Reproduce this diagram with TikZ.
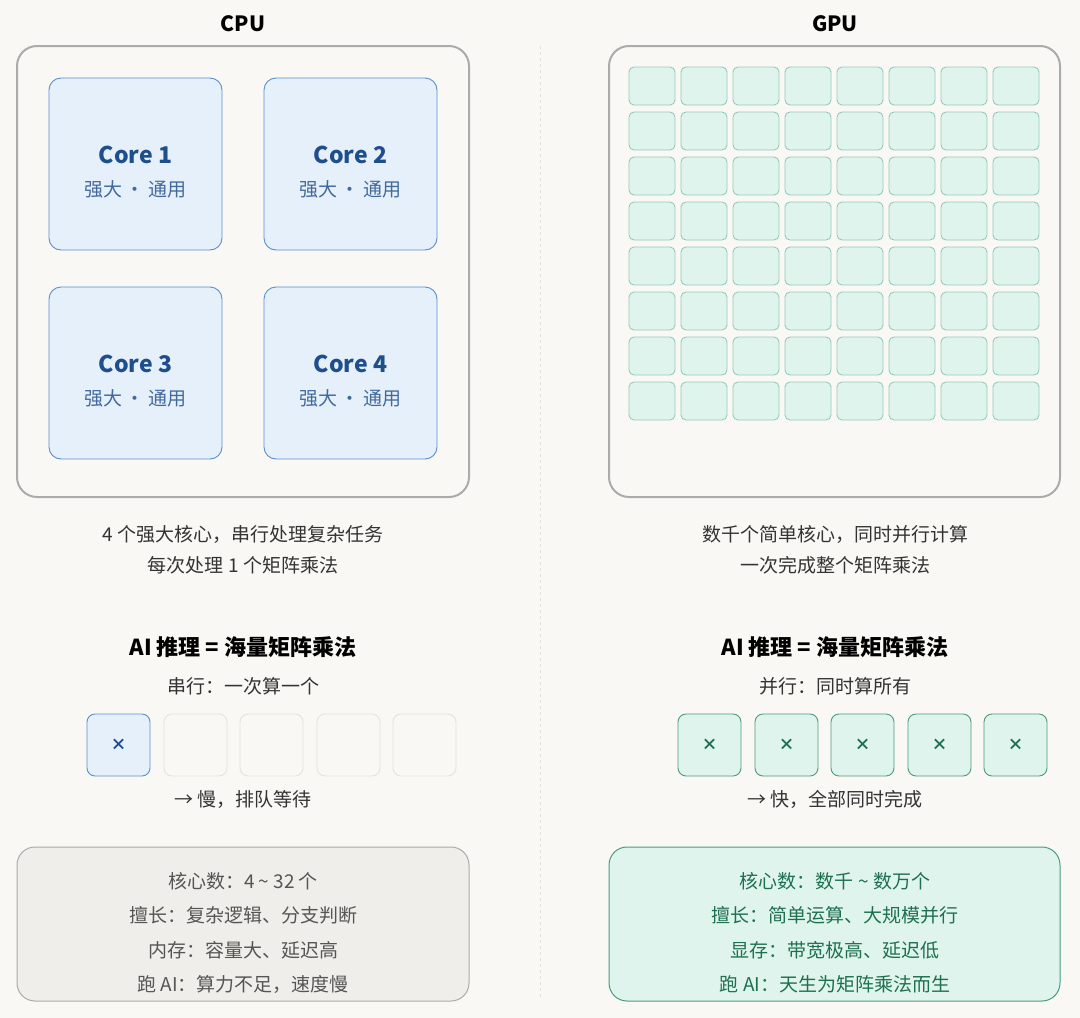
\documentclass[tikz,border=0pt]{standalone}
\usepackage{fontspec}
\setmainfont{Noto Sans CJK SC}
\begin{document}
\begin{tikzpicture}[x=1pt,y=-1pt,
 core/.style={draw=corebd,fill=corefill,rounded corners=12pt,line width=0.9pt},
 cell/.style={draw=cellbd,fill=cellfill,rounded corners=5pt,line width=0.9pt},
 outer/.style={draw=outbd,rounded corners=20pt,line width=2pt},
 txt/.style={font=\fontsize{19}{20}\selectfont,text=txtc},
]
\definecolor{bg}{HTML}{F9F8F5}
\definecolor{corebd}{HTML}{5A8FCC}
\definecolor{corefill}{HTML}{E6F0FB}
\definecolor{coretxt}{HTML}{1F4E8C}
\definecolor{cellbd}{HTML}{95CBB6}
\definecolor{cellfill}{HTML}{E0F4EE}
\definecolor{outbd}{HTML}{ABABAB}
\definecolor{txtc}{HTML}{333333}
\definecolor{gbd}{HTML}{4C9C7A}
\definecolor{gtxt}{HTML}{1E7050}
\definecolor{emptybd}{HTML}{E4E2DE}
\definecolor{graybox}{HTML}{EFEEEA}
\definecolor{graytxt}{HTML}{555555}
\fill[bg] (0,0) rectangle (1080,1018);
\useasboundingbox (0,0) rectangle (1080,1018);
\draw[dashed,draw=emptybd,line width=1pt] (540,46) -- (540,1000);
% titles
\node[font=\bfseries\fontsize{21}{22}\selectfont] (tcpu) at (243,24) {CPU};
\node[font=\bfseries\fontsize{21}{22}\selectfont] (tgpu) at (835,24) {GPU};
\draw[outer] (17,46) rectangle (469,497);
\draw[outer] (609,46) rectangle (1060,497);
% cores
\foreach \n/\x/\y in {1/49/78,2/264/78,3/49/287,4/264/287}{
 \draw[core] (\x,\y) rectangle ++(173,172);
 \node[font=\fontsize{23}{24}\selectfont\bfseries,text=coretxt] (c\n) at (\x+86.5,\y+77) {Core \n};
 \node[font=\fontsize{19}{20}\selectfont,text=coretxt!85] (s\n) at (\x+86.5,\y+111) {强大\,·\,通用};
}
% gpu grid
\foreach \i in {0,...,7}{\foreach \j in {0,...,7}{
 \draw[cell] (629+52*\i,67+45*\j) rectangle ++(46,38);
}}
% descriptions
\node[txt] (d1) at (243,534) {4 个强大核心，串行处理复杂任务};
\node[txt] (d1b) at (243,565) {每次处理 1 个矩阵乘法};
\node[txt] (d2) at (835,534) {数千个简单核心，同时并行计算};
\node[txt] (d2b) at (835,565) {一次完成整个矩阵乘法};
\node[font=\bfseries\fontsize{22}{24}\selectfont] (h1) at (243,647) {AI 推理 = 海量矩阵乘法};
\node[font=\bfseries\fontsize{22}{24}\selectfont] (h2) at (835,647) {AI 推理 = 海量矩阵乘法};
\node[txt] (p1) at (243,686) {串行：一次算一个};
\node[txt] (p2) at (835,686) {并行：同时算所有};
% small boxes
\draw[core,rounded corners=8pt] (87,714) rectangle ++(63,62);
\node[font=\bfseries\fontsize{16}{16}\selectfont,text=coretxt] (x0) at (118.5,745) {×};
\foreach \x in {164,240,317,393}{\draw[draw=emptybd,line width=0.9pt,rounded corners=8pt] (\x,714) rectangle ++(63,62);}
\foreach \x/\k in {678/1,755/2,831/3,908/4,984/5}{
 \draw[draw=gbd,fill=cellfill,line width=0.9pt,rounded corners=8pt] (\x,714) rectangle ++(63,62);
 \node[font=\bfseries\fontsize{16}{16}\selectfont,text=gtxt] (g\k) at (\x+31.5,745) {×};
}
\node[txt] (a1) at (243,799) {→ 慢，排队等待};
\node[txt] (a2) at (835,799) {→ 快，全部同时完成};
% bottom boxes
\draw[draw=outbd,fill=graybox,rounded corners=18pt,line width=1pt] (17,847) rectangle (469,1001);
\draw[draw=gbd,fill=cellfill,rounded corners=18pt,line width=1pt] (609,847) rectangle (1060,1001);
\foreach \t/\y/\k in {核心数：4 \textasciitilde{} 32 个/881/1,擅长：复杂逻辑、分支判断/915/2,内存：容量大、延迟高/950/3,跑 AI：算力不足，速度慢/984/4}{
 \node[font=\fontsize{19}{20}\selectfont,text=graytxt] (l\k) at (243,\y) {\t};}
\foreach \t/\y/\k in {核心数：数千 \textasciitilde{} 数万个/881/1,擅长：简单运算、大规模并行/915/2,显存：带宽极高、延迟低/950/3,跑 AI：天生为矩阵乘法而生/984/4}{
 \node[font=\fontsize{19}{20}\selectfont,text=gtxt] (r\k) at (835,\y) {\t};}
\end{tikzpicture}
\end{document}
